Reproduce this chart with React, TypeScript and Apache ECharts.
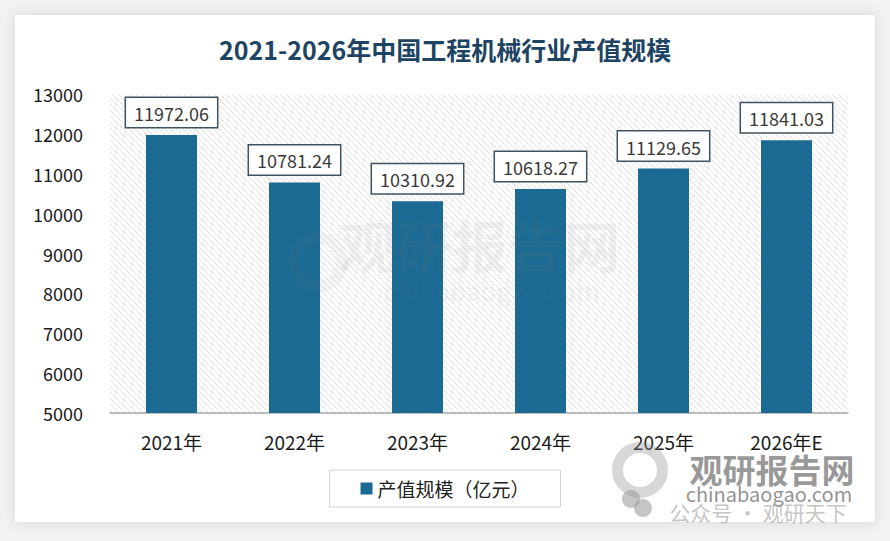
import React, { useEffect, useRef } from "react";
import * as echarts from "echarts";

const categories = ["2021年", "2022年", "2023年", "2024年", "2025年", "2026年E"];
const values = [11972.06, 10781.24, 10310.92, 10618.27, 11129.65, 11841.03];
const seriesName = "产值规模（亿元）";
const titleText = "2021-2026年中国工程机械行业产值规模";

const FONT = "'Noto Sans CJK SC', 'Noto Sans', sans-serif";

function makeHatch(): HTMLCanvasElement {
  const c = document.createElement("canvas");
  const s = 6;
  c.width = s;
  c.height = s;
  const ctx = c.getContext("2d")!;
  ctx.fillStyle = "#ffffff";
  ctx.fillRect(0, 0, s, s);
  ctx.strokeStyle = "#e0e0e0";
  ctx.lineWidth = 1;
  ctx.beginPath();
  ctx.moveTo(-1, -1);
  ctx.lineTo(s + 1, s + 1);
  ctx.moveTo(-1, s - 1);
  ctx.lineTo(1, s + 1);
  ctx.moveTo(s - 1, -1);
  ctx.lineTo(s + 1, 1);
  ctx.stroke();
  return c;
}

export default function App() {
  const ref = useRef<HTMLDivElement>(null);
  useEffect(() => {
    if (!ref.current) return;
    const chart = echarts.init(ref.current, undefined, { renderer: "svg" });
    const hatch = makeHatch();
    chart.setOption({
      animation: false,
      backgroundColor: "#f2f2f2",
      title: {
        text: titleText,
        left: "center",
        top: 31,
        textStyle: {
          fontFamily: FONT,
          fontSize: 25,
          fontWeight: "bold",
          color: "#1e4463",
        },
      },
      legend: {
        data: [seriesName],
        left: "center",
        top: 470,
        icon: "rect",
        itemWidth: 12,
        itemHeight: 12,
        itemGap: 6,
        padding: [9, 31],
        borderColor: "#cfd3d6",
        borderWidth: 1,
        backgroundColor: "#ffffff",
        textStyle: { fontFamily: FONT, fontSize: 19, color: "#222" },
      },
      grid: {
        left: 110,
        right: 42,
        top: 94,
        bottom: 128,
        show: true,
        borderWidth: 0,
        backgroundColor: { image: hatch, repeat: "repeat" },
        containLabel: false,
      },
      xAxis: {
        type: "category",
        data: categories,
        axisLine: { lineStyle: { color: "#a6a6a6", width: 1.5 } },
        axisTick: { show: false },
        axisLabel: {
          fontFamily: FONT,
          fontSize: 19,
          color: "#1a1a1a",
          margin: 19,
        },
      },
      yAxis: {
        type: "value",
        min: 5000,
        max: 13000,
        interval: 1000,
        axisLine: { show: false },
        axisTick: { show: false },
        splitLine: { show: false },
        axisLabel: {
          fontFamily: FONT,
          fontSize: 18,
          color: "#1a1a1a",
          margin: 27,
          formatter: (v: number) => String(v),
        },
      },
      graphic: [
        {
          type: "rect",
          z: -10,
          silent: true,
          shape: { x: 15, y: 15, width: 860, height: 507 },
          style: {
            fill: "#ffffff",
            shadowBlur: 12,
            shadowColor: "rgba(0,0,0,0.12)",
          },
        },
        {
          type: "text",
          z: 100,
          silent: true,
          x: 480,
          y: 243,
          style: {
            text: "观研报告网",
            fontFamily: FONT,
            fontSize: 56,
            fontWeight: "bold",
            fill: "rgba(120,120,120,0.10)",
            align: "center",
            verticalAlign: "middle",
          },
        },
        {
          type: "text",
          z: 100,
          silent: true,
          x: 492,
          y: 289,
          style: {
            text: "chinabaogao.com",
            fontFamily: FONT,
            fontSize: 26,
            fill: "rgba(120,120,120,0.10)",
            align: "center",
            verticalAlign: "middle",
          },
        },
        {
          type: "ring",
          z: 100,
          silent: true,
          shape: { cx: 318, cy: 262, r: 30, r0: 18 },
          style: { fill: "rgba(120,120,120,0.07)" },
        },
        {
          type: "ring",
          z: 100,
          silent: true,
          shape: { cx: 640, cy: 470, r: 28, r0: 17 },
          style: { fill: "rgba(140,140,140,0.35)" },
        },
        {
          type: "text",
          z: 100,
          silent: true,
          x: 772,
          y: 469,
          style: {
            text: "观研报告网",
            fontFamily: FONT,
            fontSize: 33,
            fontWeight: "bold",
            fill: "rgba(120,120,120,0.75)",
            align: "center",
            verticalAlign: "middle",
          },
        },
        {
          type: "text",
          z: 100,
          silent: true,
          x: 769,
          y: 493,
          style: {
            text: "chinabaogao.com",
            fontFamily: FONT,
            fontSize: 20,
            fill: "rgba(110,110,110,0.75)",
            align: "center",
            verticalAlign: "middle",
          },
        },
        {
          type: "circle",
          z: 100,
          silent: true,
          shape: { cx: 631, cy: 499, r: 9 },
          style: { fill: "rgba(150,150,150,0.55)" },
        },
        {
          type: "circle",
          z: 100,
          silent: true,
          shape: { cx: 643, cy: 508, r: 9 },
          style: { fill: "rgba(150,150,150,0.55)" },
        },
        {
          type: "text",
          z: 100,
          silent: true,
          x: 758,
          y: 512,
          style: {
            text: "公众号 · 观研天下",
            fontFamily: FONT,
            fontSize: 21,
            fill: "rgba(160,160,160,0.6)",
            align: "center",
            verticalAlign: "middle",
          },
        },
      ],
      series: [
        {
          name: seriesName,
          type: "bar",
          data: values,
          barWidth: 51,
          itemStyle: { color: "#1b6a93" },
          label: {
            show: true,
            position: "top",
            distance: 8,
            fontFamily: FONT,
            fontSize: 18,
            color: "#3a3a3a",
            backgroundColor: "#ffffff",
            borderColor: "#3e5260",
            borderWidth: 1.5,
            padding: [6, 8, 5, 8],
            formatter: (p: any) => Number(p.value).toFixed(2),
          },
        },
      ],
    });
    return () => chart.dispose();
  }, []);
  return (
    <div
      ref={ref}
      style={{ position: "fixed", left: 0, top: 0, width: 890, height: 541 }}
    />
  );
}
